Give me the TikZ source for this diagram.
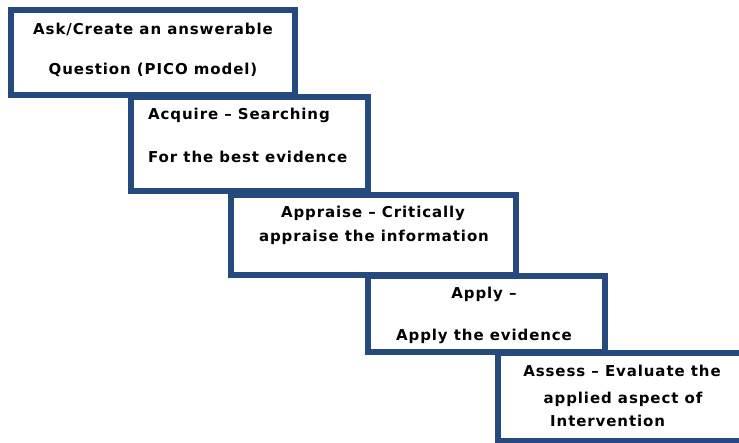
\documentclass[tikz,border=0pt]{standalone}
\usepackage{fontspec}
\setmainfont{DejaVu Sans}[LetterSpace=6]
\definecolor{bord}{HTML}{264A7D}
\begin{document}
\begin{tikzpicture}[x=1pt,y=-1pt,
  box/.style={draw=bord, line width=5.5pt, fill=white, inner sep=0pt},
  txt/.style={font=\fontsize{15}{18}\selectfont\bfseries, inner sep=0pt, anchor=base, text=black}]
\useasboundingbox (0,0) rectangle (739,443);
\begin{scope}
\clip (0,0) rectangle (739,443);
\node[box, minimum width=284pt, minimum height=85pt] (b1) at (153,52.5) {};
\node[box, minimum width=237pt, minimum height=94pt] (b2) at (249.5,144) {};
\node[box, minimum width=285pt, minimum height=80pt] (b3) at (373.5,235) {};
\node[box, minimum width=237pt, minimum height=76pt] (b4) at (486.5,314) {};
\node[box, minimum width=262pt, minimum height=88pt] (b5) at (629,397) {};
\end{scope}
\node[txt] (t1a) at (153,35) {Ask/Create an answerable};
\node[txt] (t1b) at (153,75) {Question (PICO model)};
\node[txt, anchor=base west] (t2a) at (148,120) {Acquire – Searching};
\node[txt, anchor=base west] (t2b) at (148,163) {For the best evidence};
\node[txt] (t3a) at (373,218) {Appraise – Critically};
\node[txt] (t3b) at (374,242) {appraise the information};
\node[txt] (t4a) at (484,299) {Apply –};
\node[txt] (t4b) at (484,341) {Apply the evidence};
\node[txt] (t5a) at (622,377) {Assess – Evaluate the};
\node[txt] (t5b) at (623,403) {applied aspect of};
\node[txt, anchor=base west] (t5c) at (550,427) {Intervention};
\end{tikzpicture}
\end{document}
